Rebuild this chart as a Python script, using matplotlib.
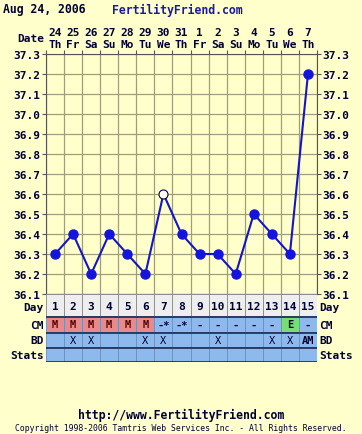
import numpy as np
import matplotlib.pyplot as plt

# Datos del gráfico
dates = ['24', '25', '26', '27', '28', '29', '30', '31', '1', '2', '3', '4', '5', '6', '7']
weekdays = ['Th', 'Fr', 'Sa', 'Su', 'Mo', 'Tu', 'We', 'Th', 'Fr', 'Sa', 'Su', 'Mo', 'Tu', 'We', 'Th']
temps = [36.3, 36.4, 36.2, 36.4, 36.3, 36.2, 36.6, 36.4, 36.3, 36.3, 36.2, 36.5, 36.4, 36.3, 37.2]
hollow = [6]
cycle_days = list(range(1, 16))
cm = ['M', 'M', 'M', 'M', 'M', 'M', '-*', '-*', '-', '-', '-', '-', '-', 'E', '-']
bd = ['', 'X', 'X', '', '', 'X', 'X', '', '', 'X', '', '', 'X', 'X', 'AM']
y_ticks = [36.1, 36.2, 36.3, 36.4, 36.5, 36.6, 36.7, 36.8, 36.9, 37.0, 37.1, 37.2, 37.3]

W, H = 362, 435
BG = '#FFFFCC'
NAVY = '#000033'
BLUE = '#8EB9EC'
PINK = '#E88A8A'
GREEN = '#77DD77'
GRAY = '#EEEEEE'
FONT = 'DejaVu Sans Mono'
FS = 8

fig = plt.figure(figsize=(W / 100, H / 100), dpi=100, facecolor=BG)

# Gráfico de temperatura
ax = fig.add_axes([46 / W, 1 - 295 / H, 271 / W, 240 / H])
ax.set_facecolor(BG)
ax.set_xlim(0, 15)
ax.set_ylim(36.1, 37.3)
ax.set_xticks(range(16))
ax.set_xticklabels([])
ax.set_yticks(y_ticks)
ax.set_yticklabels(['%.1f' % v for v in y_ticks], fontfamily=FONT, fontweight='bold',
                   fontsize=FS, color=NAVY)
ax.tick_params(axis='y', right=True, labelright=True, length=3, width=0.8,
               color='#555555', pad=1)
ax.tick_params(axis='x', top=True, bottom=False, length=3, width=0.8, color='#555555')
ax.grid(True, color='#A09E78', linewidth=0.9)
for s in ax.spines.values():
    s.set_color('#555555')
    s.set_linewidth(0.8)

xs = np.arange(15) + 0.5
ax.plot(xs, temps, color='#1414C8', linewidth=1.5, zorder=3)
filled = [i for i in range(15) if i not in hollow]
ax.plot(xs[filled], np.array(temps)[filled], 'o', color='#1414DC', markersize=6.5, zorder=4)
ax.plot(xs[hollow], np.array(temps)[hollow], 'o', markerfacecolor='white',
        markeredgecolor='#000044', markeredgewidth=0.8, markersize=6.5, zorder=4)

# Encabezado de fechas
for i in range(15):
    ax.text(i + 0.5, 37.3 + 22 / 200, dates[i], ha='center', va='center', fontfamily=FONT,
            fontweight='bold', fontsize=FS, color=NAVY, clip_on=False)
    ax.text(i + 0.5, 37.3 + 10 / 200, weekdays[i], ha='center', va='center', fontfamily=FONT,
            fontweight='bold', fontsize=FS, color=NAVY, clip_on=False)
ax.text(-0.12, 37.3 + 16 / 200, 'Date', ha='right', va='center', fontfamily=FONT,
        fontweight='bold', fontsize=FS, color=NAVY, clip_on=False)

# Tabla inferior
rows = [('Day', 0, 22), ('CM', 23, 15), ('BD', 38, 15), ('Stats', 53, 15)]
tax = fig.add_axes([46 / W, 1 - 363 / H, 271 / W, 68 / H])
tax.set_xlim(0, 15)
tax.set_ylim(68, 0)
tax.axis('off')

day_y, cm_y, bd_y, st_y = [r[1] for r in rows]
day_h, cm_h, bd_h, st_h = [r[2] for r in rows]
tax.bar(xs, day_h, bottom=day_y, width=1, color=GRAY, edgecolor='#888888', linewidth=0.6)
cm_colors = [PINK if v == 'M' else GREEN if v == 'E' else BLUE for v in cm]
tax.bar(xs, cm_h, bottom=cm_y, width=1, color=cm_colors, edgecolor='#6A8FBF', linewidth=0.6)
tax.bar(xs, bd_h, bottom=bd_y, width=1, color=BLUE, edgecolor='#6A8FBF', linewidth=0.6)
tax.bar(xs, st_h, bottom=st_y, width=1, color=BLUE, edgecolor='#6A8FBF', linewidth=0.6)
for yb in [day_y + day_h + 0.5, cm_y + cm_h + 0.5, bd_y + bd_h + 0.5, st_y + st_h]:
    tax.axhline(yb, color='#1A2A55', linewidth=1.2)

for i in range(15):
    tax.text(xs[i], day_y + day_h / 2 + 1.5, str(cycle_days[i]), ha='center', va='center',
             fontfamily=FONT, fontweight='bold', fontsize=FS, color=NAVY)
    tax.text(xs[i], cm_y + cm_h / 2, cm[i], ha='center', va='center', fontfamily=FONT,
             fontweight='bold', fontsize=7.5, color='#550000' if cm[i] == 'M' else NAVY)
    tax.text(xs[i], bd_y + bd_h / 2, bd[i], ha='center', va='center', fontfamily=FONT,
             fontweight='bold' if bd[i] == 'AM' else 'normal', fontsize=7.5, color=NAVY)

for name, y0, h in rows:
    dy = 2 if name == 'Day' else 0.5
    tax.text(-0.12, y0 + h / 2 + dy, name, ha='right', va='center', fontfamily=FONT,
             fontweight='bold', fontsize=FS, color=NAVY, clip_on=False)
    tax.text(15.12, y0 + h / 2 + dy, name, ha='left', va='center', fontfamily=FONT,
             fontweight='bold', fontsize=FS, color=NAVY, clip_on=False)

# Títulos y pie
fig.text(3 / W, 1 - 10 / H, 'Aug 24, 2006', ha='left', va='center', fontfamily=FONT,
         fontweight='bold', fontsize=8.3, color=NAVY)
fig.text(112 / W, 1 - 10 / H, 'FertilityFriend.com', ha='left', va='center', fontfamily=FONT,
         fontweight='bold', fontsize=8.3, color='#1A1AA0')
fig.text(181 / W, 1 - 415 / H, 'http://www.FertilityFriend.com', ha='center', va='center',
         fontfamily=FONT, fontweight='bold', fontsize=8.3, color=NAVY)
fig.text(181 / W, 1 - 429 / H,
         'Copyright 1998-2006 Tamtris Web Services Inc. - All Rights Reserved.',
         ha='center', va='center', fontfamily=FONT, fontsize=5.9, color=NAVY)

plt.savefig('out.png', dpi=100, facecolor=BG)
plt.close()
